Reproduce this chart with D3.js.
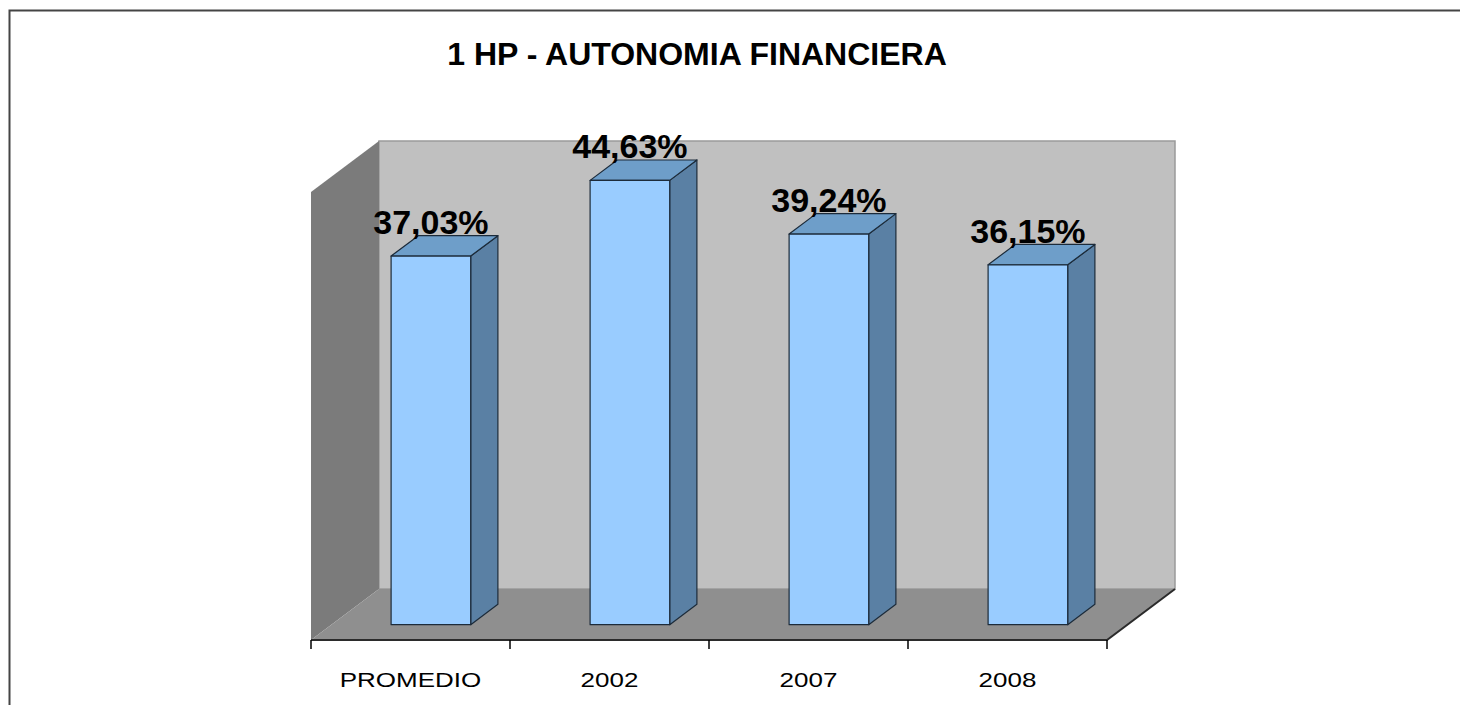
<!DOCTYPE html>
<html>
<head>
<meta charset="utf-8">
<script src="https://cdn.jsdelivr.net/npm/d3@7"></script>
<style>
  body { margin: 0; background: #fff; overflow: hidden; }
  svg { display: block; font-family: "Liberation Sans", Arial, sans-serif; }
</style>
</head>
<body>
<svg id="chart" width="1460" height="705"></svg>
<script>
const title = '1 HP - AUTONOMIA FINANCIERA';
const categories = ['PROMEDIO', '2002', '2007', '2008'];
const values = [37.03, 44.63, 39.24, 36.15];
const valueLabels = ['37,03%', '44,63%', '39,24%', '36,15%'];

const svg = d3.select('#chart');

// plot box (front plane) and depth of the 3d box
const plotL = 311, plotR = 1107, plotB = 640, plotT = 192;
const depthX = 68, depthY = 51;

const xScale = d3.scaleBand().domain(categories).range([plotL, plotR]);
const yScale = d3.scaleLinear().domain([0, 45]).range([plotB, plotT]);

const pts = (arr) => arr.map(p => p.join(',')).join(' ');

// outer frame (only top and left edges are in view)
svg.append('polyline')
    .attr('points', pts([[9.5, 705], [9.5, 10.5], [1460, 10.5]]))
    .attr('fill', 'none')
    .attr('stroke', '#444')
    .attr('stroke-width', 2);

// back wall
svg.append('rect')
    .attr('x', plotL + depthX).attr('y', plotT - depthY)
    .attr('width', plotR - plotL).attr('height', plotB - plotT)
    .attr('fill', '#c0c0c0')
    .attr('stroke', '#9a9a9a')
    .attr('stroke-width', 1.5);

// side wall
svg.append('polygon')
    .attr('points', pts([[plotL, plotT], [plotL + depthX, plotT - depthY],
        [plotL + depthX, plotB - depthY], [plotL, plotB]]))
    .attr('fill', '#7b7b7b');

// floor
svg.append('polygon')
    .attr('points', pts([[plotL, plotB], [plotL + depthX, plotB - depthY],
        [plotR + depthX, plotB - depthY], [plotR, plotB]]))
    .attr('fill', '#8f8f8f');

// front and right edges of the floor
svg.append('polyline')
    .attr('points', pts([[plotL, plotB], [plotR, plotB], [plotR + depthX, plotB - depthY]]))
    .attr('fill', 'none')
    .attr('stroke', '#2b2b2b')
    .attr('stroke-width', 2);

// category ticks
const ticks = d3.range(categories.length + 1).map(i => plotL + i * xScale.step());
svg.selectAll('.tick')
    .data(ticks)
    .join('line')
    .attr('x1', d => d).attr('x2', d => d)
    .attr('y1', plotB).attr('y2', plotB + 9)
    .attr('stroke', '#000')
    .attr('stroke-width', 1.5);

// bars
const barW = xScale.bandwidth() * 0.4;
const f1 = 0.3, f2 = 0.7;
const bars = categories.map((c, i) => {
    const x0 = xScale(c) + xScale.bandwidth() / 2 - barW / 2 + depthX * f1;
    const y0 = plotB - depthY * f1;
    const yt = yScale(values[i]) - depthY * f1;
    const dx = depthX * (f2 - f1), dy = depthY * (f2 - f1);
    return { c, i, x0, y0, yt, dx, dy };
});

const g = svg.append('g').attr('stroke', '#1c2b3a').attr('stroke-width', 1.2).attr('stroke-linejoin', 'round');
bars.forEach(b => {
    // side
    g.append('polygon')
        .attr('points', pts([[b.x0 + barW, b.y0], [b.x0 + barW, b.yt],
            [b.x0 + barW + b.dx, b.yt - b.dy], [b.x0 + barW + b.dx, b.y0 - b.dy]]))
        .attr('fill', '#5a80a4');
    // top
    g.append('polygon')
        .attr('points', pts([[b.x0, b.yt], [b.x0 + barW, b.yt],
            [b.x0 + barW + b.dx, b.yt - b.dy], [b.x0 + b.dx, b.yt - b.dy]]))
        .attr('fill', '#6e9ec9');
    // front
    g.append('rect')
        .attr('x', b.x0).attr('y', b.yt)
        .attr('width', barW).attr('height', b.y0 - b.yt)
        .attr('fill', '#99ccff');
});

// value labels
svg.selectAll('.val')
    .data(bars)
    .join('text')
    .attr('x', d => d.x0 + barW / 2)
    .attr('y', d => d.yt - 22)
    .attr('text-anchor', 'middle')
    .attr('font-size', 34)
    .attr('font-weight', 'bold')
    .attr('fill', '#000')
    .text(d => valueLabels[d.i]);

// category labels
svg.selectAll('.cat')
    .data(categories)
    .join('text')
    .attr('transform', d => `translate(${xScale(d) + xScale.bandwidth() / 2},687) scale(1.3,1)`)
    .attr('text-anchor', 'middle')
    .attr('font-size', 20)
    .attr('fill', '#000')
    .text(d => d);

// title
svg.append('text')
    .attr('x', 697).attr('y', 65)
    .attr('text-anchor', 'middle')
    .attr('font-size', 32)
    .attr('font-weight', 'bold')
    .text(title);
</script>
</body>
</html>
